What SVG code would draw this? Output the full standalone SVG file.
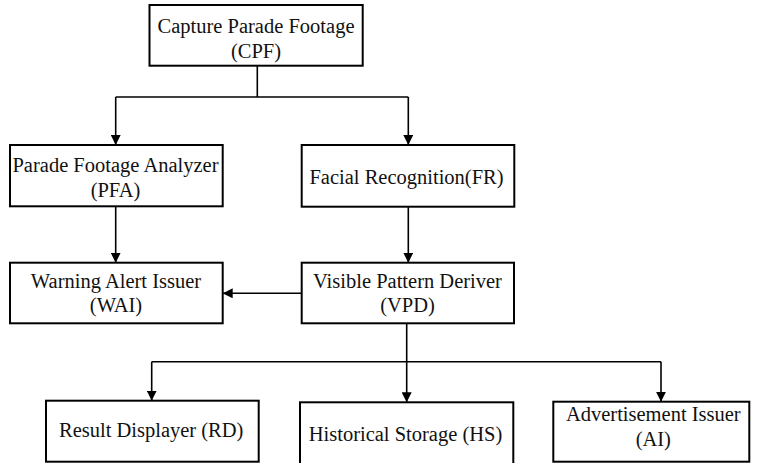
<svg xmlns="http://www.w3.org/2000/svg" width="757" height="463" viewBox="0 0 757 463">
  <style>
    .box { fill: #ffffff; stroke: #000000; stroke-width: 2; }
    .lbl { font-family: "Liberation Serif", "DejaVu Serif", serif; font-size: 20.5px; fill: #111111; text-anchor: middle; }
    .wire { fill: none; stroke: #000000; stroke-width: 1.6; }
  </style>
  <defs>
    <marker id="arrow" viewBox="0 0 10 10" refX="10" refY="5" markerWidth="10" markerHeight="10" markerUnits="userSpaceOnUse" orient="auto">
      <path d="M0,0 L10,5 L0,10 Z" fill="#000000"/>
    </marker>
  </defs>

  <rect width="757" height="463" fill="#ffffff"/>

  <g id="connectors">
    <!-- CPF splits to PFA and FR -->
    <path class="wire" d="M257.3,65.7 V97"/>
    <path class="wire" d="M115.7,97 H408.3"/>
    <path class="wire" d="M115.7,97 V145" marker-end="url(#arrow)"/>
    <path class="wire" d="M408.3,97 V145" marker-end="url(#arrow)"/>
    <!-- PFA to WAI, FR to VPD -->
    <path class="wire" d="M115.7,206.3 V262.7" marker-end="url(#arrow)"/>
    <path class="wire" d="M408.3,206.7 V262.7" marker-end="url(#arrow)"/>
    <!-- VPD to WAI -->
    <path class="wire" d="M301.7,293.3 H222.7" marker-end="url(#arrow)"/>
    <!-- VPD fans out to RD, HS, AI -->
    <path class="wire" d="M406.7,323.3 V402.3" marker-end="url(#arrow)"/>
    <path class="wire" d="M151.7,361.7 H661"/>
    <path class="wire" d="M151.7,361.7 V400.7" marker-end="url(#arrow)"/>
    <path class="wire" d="M661,361.7 V401.7" marker-end="url(#arrow)"/>
  </g>

  <g id="cpf">
    <rect class="box" x="149.5" y="5" width="213.2" height="60.7"/>
    <text class="lbl" x="256" y="33.3">Capture Parade Footage</text>
    <text class="lbl" x="256" y="57.5">(CPF)</text>
  </g>

  <g id="pfa">
    <rect class="box" x="10" y="145" width="212.7" height="61.3"/>
    <text class="lbl" x="115.5" y="171.7">Parade Footage Analyzer</text>
    <text class="lbl" x="115.5" y="196.5">(PFA)</text>
  </g>

  <g id="fr">
    <rect class="box" x="301.7" y="145" width="212.6" height="61.7"/>
    <text class="lbl" x="406.5" y="184">Facial Recognition(FR)</text>
  </g>

  <g id="wai">
    <rect class="box" x="10" y="262.7" width="212.7" height="60.6"/>
    <text class="lbl" x="116" y="288.3">Warning Alert Issuer</text>
    <text class="lbl" x="116" y="312">(WAI)</text>
  </g>

  <g id="vpd">
    <rect class="box" x="301.7" y="262.7" width="212.3" height="60.6"/>
    <text class="lbl" x="407.5" y="288.3">Visible Pattern Deriver</text>
    <text class="lbl" x="407.5" y="312">(VPD)</text>
  </g>

  <g id="rd">
    <rect class="box" x="46" y="400.7" width="212.7" height="61"/>
    <text class="lbl" x="151.2" y="436.7">Result Displayer (RD)</text>
  </g>

  <g id="hs">
    <rect class="box" x="300" y="402.3" width="213.3" height="62"/>
    <text class="lbl" x="405.5" y="440.7">Historical Storage (HS)</text>
  </g>

  <g id="ai">
    <rect class="box" x="553.3" y="401.7" width="196" height="60"/>
    <text class="lbl" x="653.3" y="420.7">Advertisement Issuer</text>
    <text class="lbl" x="653.3" y="446">(AI)</text>
  </g>
</svg>
